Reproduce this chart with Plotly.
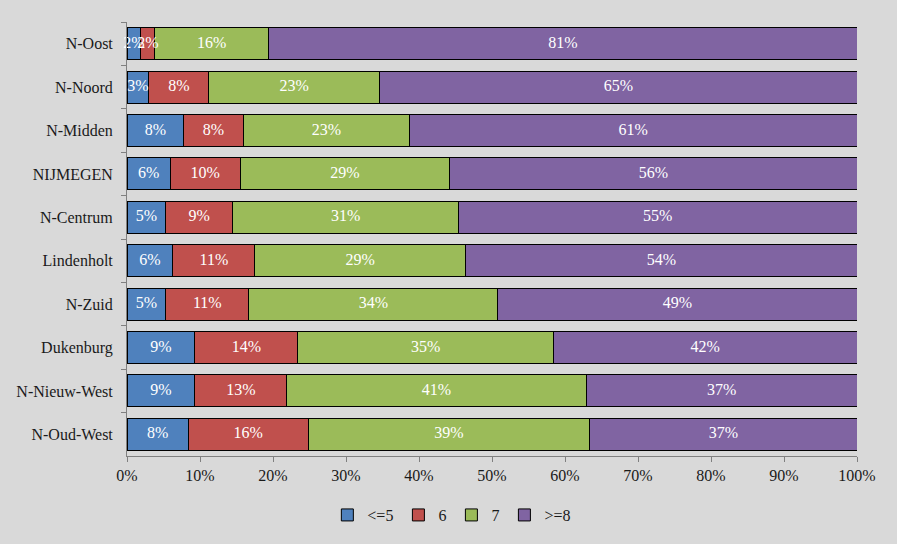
import plotly.graph_objects as go

categories = ["N-Oost", "N-Noord", "N-Midden", "NIJMEGEN", "N-Centrum",
              "Lindenholt", "N-Zuid", "Dukenburg", "N-Nieuw-West", "N-Oud-West"]
series_names = ["<=5", "6", "7", ">=8"]
le5 = [1.9, 3.0, 7.8, 5.9, 5.3, 6.3, 5.3, 9.3, 9.3, 8.4]
s6 = [1.9, 8.2, 8.1, 9.6, 9.2, 11.2, 11.4, 14.1, 12.6, 16.4]
s7 = [15.6, 23.4, 22.8, 28.7, 30.9, 28.9, 34.1, 35.0, 41.0, 38.6]
ge8 = [80.6, 65.4, 61.3, 55.8, 54.6, 53.6, 49.2, 41.6, 37.1, 36.6]
colors = ["#4f81bd", "#c0504d", "#9bbb59", "#8064a2"]
x_ticks = list(range(0, 101, 10))
x_tick_labels = [f"{v}%" for v in x_ticks]

FONT = "Liberation Serif"
fig = go.Figure()
series = [le5, s6, s7, ge8]
for name, vals, col in zip(series_names, series, colors):
    fig.add_trace(go.Bar(
        y=categories, x=vals, name=name, orientation="h",
        marker=dict(color=col, line=dict(color="black", width=1)),
        hoverinfo="skip",
    ))

# value labels at the middle of each stacked segment (full size, may overlap)
lab_x, lab_y, lab_t = [], [], []
for i, cat in enumerate(categories):
    start = 0.0
    for vals in series:
        v = vals[i]
        lab_x.append(start + v / 2)
        lab_y.append(cat)
        lab_t.append(f"{round(v):d}%")
        start += v
fig.add_trace(go.Scatter(
    x=lab_x, y=lab_y, text=lab_t, mode="text", showlegend=False,
    textposition="middle center", hoverinfo="skip",
    textfont=dict(color="white", size=16, family=FONT), cliponaxis=False,
))

fig.update_layout(
    barmode="stack", bargap=0.26,
    width=897, height=544,
    paper_bgcolor="#d9d9d9", plot_bgcolor="#d9d9d9",
    margin=dict(l=127, r=40, t=22, b=88, autoexpand=False),
    font=dict(family=FONT, size=16, color="#1a1a1a"),
    showlegend=True,
    legend=dict(orientation="h", x=0.445, xanchor="center", y=-0.136, yanchor="middle",
                font=dict(size=16, family=FONT), itemwidth=30, traceorder="normal",
                bgcolor="rgba(0,0,0,0)"),
)
fig.update_xaxes(range=[0, 100], tickvals=x_ticks, ticktext=x_tick_labels,
                 showgrid=False, zeroline=False, showline=True, linecolor="#808080",
                 ticks="outside", ticklen=5, tickcolor="#808080", fixedrange=True)
fig.update_yaxes(categoryorder="array", categoryarray=categories, autorange="reversed",
                 showgrid=False, showline=True, linecolor="#808080",
                 ticks="outside", ticklen=5, tickcolor="#808080", tickson="boundaries",
                 ticklabelstandoff=10)
fig.write_html("out.html", config={"displayModeBar": False},
               post_script="document.body.style.margin='0';")
